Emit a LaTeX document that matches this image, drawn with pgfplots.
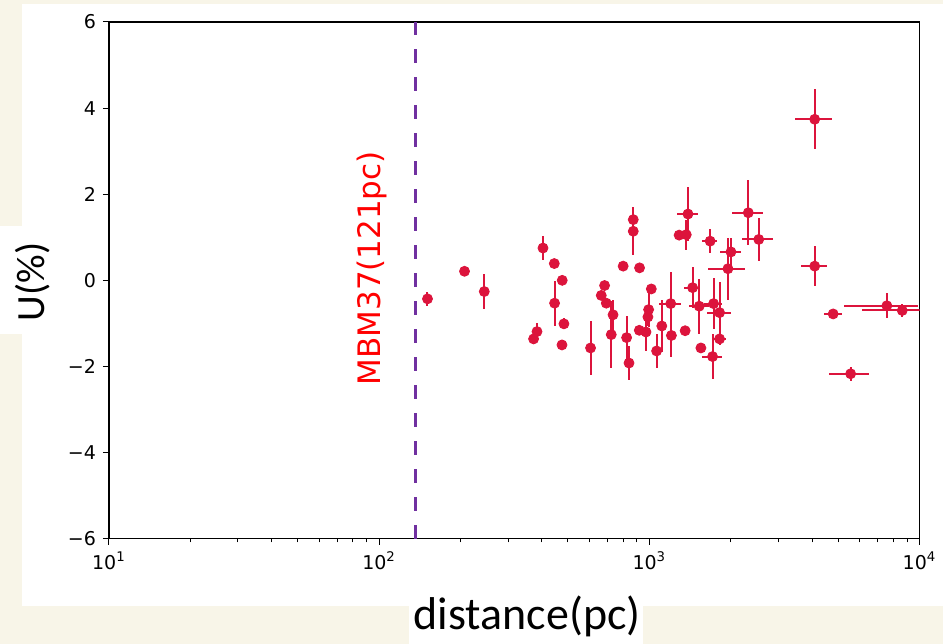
\documentclass[border=0pt]{standalone}
\usepackage{pgfplots}
\pgfplotsset{compat=1.18}
\usepackage{pgfplotstable}
\usepackage{fontspec}
\setmainfont{DejaVu Sans}
\newfontfamily\calibri{Carlito}
\definecolor{cream}{RGB}{248,245,232}
\definecolor{crim}{RGB}{220,20,60}
\definecolor{vpurple}{RGB}{112,48,160}

\pgfplotstableread{
x y ex ey
151 -0.43 0 0.17
207 0.21 0 0.10
245 -0.26 0 0.40
373 -1.36 0 0.08
384 -1.19 0 0.20
404 0.75 0 0.27
445 0.39 0 0.05
476 0.00 0 0.05
446 -0.53 0 0.52
483 -1.01 0 0.13
475 -1.50 0 0.12
606 -1.57 0 0.62
683 -0.12 0 0.05
664 -0.35 0 0.10
693 -0.53 0 0.10
734 -0.80 0 0.35
723 -1.26 30 0.78
800 0.33 0 0.03
920 0.29 0 0.03
872 1.41 0 0.30
872 1.14 0 0.55
824 -1.33 0 0.50
841 -1.92 0 0.40
1017 -0.20 0 0.05
994 -0.68 0 0.40
988 -0.85 20 0.20
918 -1.16 25 0.10
972 -1.20 20 0.45
1064 -1.64 30 0.40
1112 -1.06 0 0.60
1200 -0.54 110 0.74
1207 -1.28 0 0.50
1357 -1.17 0 0.06
1390 1.54 125 0.63
1289 1.05 60 0.05
1370 1.06 0 0.35
1446 -0.17 100 0.47
1530 -0.60 130 0.64
1552 -1.57 0 0.12
1679 0.91 108 0.28
1729 -0.54 130 0.59
1820 -0.75 185 0.70
1820 -1.36 100 0.15
1714 -1.77 150 0.52
2324 1.57 300 0.75
2541 0.95 330 0.50
2005 0.66 185 0.33
1954 0.27 310 0.72
4093 3.74 630 0.70
4093 0.33 440 0.46
4790 -0.78 360 0.05
7570 -0.59 2300 0.29
8630 -0.70 2500 0.15
5560 -2.17 920 0.16
}\pts

\begin{document}
\begin{tikzpicture}
\fill[cream] (-54.5pt,-52.5pt) rectangle (417pt,269.5pt);
\fill[white] (-43.5pt,-33.5pt) rectangle (417pt,267.5pt);
\fill[white] (-54.5pt,102.5pt) rectangle (-43.5pt,156.5pt);
\fill[white] (150pt,-52.5pt) rectangle (267pt,-33.5pt);
\begin{axis}[
  scale only axis, width=405.5pt, height=258.5pt,
  xmode=log, log basis x=10,
  xmin=10, xmax=10000, ymin=-6, ymax=6,
  xtick={10,100,1000,10000},
  xticklabels={10\textsuperscript{1},10\textsuperscript{2},10\textsuperscript{3},10\textsuperscript{4}},
  minor xtick={20,30,...,90,200,300,...,900,2000,3000,...,9000},
  ytick={-6,-4,-2,0,2,4,6},
  yticklabels={−6,−4,−2,0,2,4,6},
  xtick pos=bottom, ytick pos=left,
  tick align=outside,
  major tick length=3pt, minor tick length=1.8pt,
  tick style={black, line width=0.5pt},
  axis line style={line width=0.6pt},
  ticklabel style={font=\fontsize{9.5}{11}\selectfont},
  xlabel={distance(pc)}, ylabel={U(\%)},
  xlabel style={at={(axis description cs:0.516,-0.176)}, anchor=base, font=\calibri\fontsize{23}{26}\selectfont},
  ylabel style={at={(axis description cs:-0.0937,0.497)}, anchor=center, font=\calibri\fontsize{20}{24}\selectfont},
]
\addplot[vpurple, line width=1.5pt, dash pattern=on 7pt off 7pt] coordinates {(136,-6) (136,6)};
\addplot[only marks, mark=*, mark size=2.5pt, color=crim, mark options={fill=crim, draw=crim},
  error bars/.cd, x dir=both, x explicit, y dir=both, y explicit, error mark=none,
  error bar style={line width=1pt, crim}]
  table[x=x, y=y, x error=ex, y error=ey]{\pts};
\node[rotate=90, text=red, font=\fontsize{15.5}{18}\selectfont] at (axis cs:94,0.28) {MBM37(121pc)};
\end{axis}
\end{tikzpicture}
\end{document}
